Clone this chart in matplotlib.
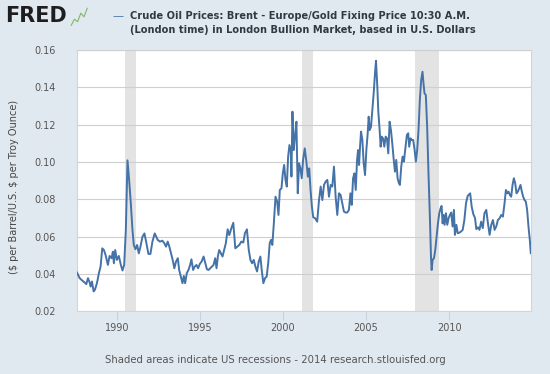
import matplotlib
matplotlib.use("Agg")
import matplotlib.pyplot as plt

years = [
    1987.60, 1987.76, 1987.92, 1988.06, 1988.16, 1988.26, 1988.36, 1988.42, 1988.50, 1988.60,
    1988.68, 1988.80, 1988.92, 1989.02, 1989.12, 1989.22, 1989.32, 1989.46, 1989.56, 1989.68,
    1989.76, 1989.82, 1989.90, 1990.00, 1990.12, 1990.24, 1990.34, 1990.44, 1990.54, 1990.64,
    1990.74, 1990.84, 1990.94, 1991.02, 1991.12, 1991.22, 1991.32, 1991.42, 1991.54, 1991.66,
    1991.78, 1991.90, 1992.02, 1992.14, 1992.28, 1992.46, 1992.60, 1992.74, 1992.86, 1992.96,
    1993.06, 1993.16, 1993.26, 1993.36, 1993.46, 1993.56, 1993.67, 1993.75, 1993.85, 1993.95,
    1994.03, 1994.11, 1994.21, 1994.31, 1994.41, 1994.49, 1994.59, 1994.69, 1994.79, 1994.89,
    1994.99, 1995.10, 1995.22, 1995.32, 1995.42, 1995.52, 1995.62, 1995.72, 1995.82, 1995.92,
    1996.00, 1996.08, 1996.16, 1996.26, 1996.36, 1996.46, 1996.56, 1996.67, 1996.77, 1996.89,
    1997.01, 1997.13, 1997.25, 1997.37, 1997.49, 1997.61, 1997.71, 1997.83, 1997.94, 1998.04,
    1998.14, 1998.24, 1998.34, 1998.44, 1998.54, 1998.64, 1998.72, 1998.82, 1998.92, 1999.02,
    1999.12, 1999.20, 1999.28, 1999.36, 1999.45, 1999.55, 1999.65, 1999.73, 1999.81, 1999.91,
    1999.99, 2000.07, 2000.15, 2000.23, 2000.31, 2000.39, 2000.47, 2000.51, 2000.57, 2000.65,
    2000.73, 2000.81, 2000.89, 2000.97, 2001.05, 2001.13, 2001.21, 2001.31, 2001.41, 2001.50,
    2001.58, 2001.66, 2001.74, 2001.82, 2001.94, 2002.06, 2002.17, 2002.27, 2002.37, 2002.47,
    2002.57, 2002.67, 2002.77, 2002.87, 2002.97, 2003.07, 2003.17, 2003.27, 2003.37, 2003.47,
    2003.57, 2003.67, 2003.77, 2003.87, 2003.97, 2004.06, 2004.14, 2004.22, 2004.30, 2004.38,
    2004.46, 2004.52, 2004.58, 2004.64, 2004.70, 2004.78, 2004.86, 2004.94, 2005.02, 2005.10,
    2005.16, 2005.22, 2005.30, 2005.38, 2005.46, 2005.54, 2005.60, 2005.68, 2005.74, 2005.82,
    2005.88, 2005.94, 2006.02, 2006.10, 2006.18, 2006.26, 2006.34, 2006.42, 2006.50, 2006.58,
    2006.66, 2006.74, 2006.82, 2006.90, 2006.98, 2007.04, 2007.12, 2007.20, 2007.28, 2007.36,
    2007.46, 2007.54, 2007.60, 2007.68, 2007.76, 2007.84, 2007.92, 2008.00, 2008.08, 2008.16,
    2008.24, 2008.32, 2008.40, 2008.46, 2008.52, 2008.60, 2008.68, 2008.76, 2008.85, 2008.91,
    2008.95, 2009.01, 2009.09, 2009.17, 2009.25, 2009.33, 2009.41, 2009.49, 2009.55, 2009.61,
    2009.67, 2009.73, 2009.81, 2009.89, 2009.97, 2010.05, 2010.13, 2010.21, 2010.29, 2010.35,
    2010.44, 2010.52, 2010.62, 2010.72, 2010.82, 2010.92, 2011.02, 2011.12, 2011.27, 2011.36,
    2011.46, 2011.56, 2011.64, 2011.74, 2011.83, 2011.93, 2012.03, 2012.13, 2012.24, 2012.34,
    2012.44, 2012.54, 2012.64, 2012.74, 2012.84, 2012.94, 2013.04, 2013.14, 2013.24, 2013.34,
    2013.42, 2013.50, 2013.58, 2013.66, 2013.74, 2013.82, 2013.90, 2013.98, 2014.06, 2014.14,
    2014.22, 2014.30, 2014.38, 2014.46, 2014.54, 2014.62, 2014.70, 2014.78, 2014.86, 2014.92,
]

ratio = [
    0.0407, 0.0377, 0.0364, 0.0354, 0.0345, 0.0377, 0.0354, 0.0332, 0.0359, 0.0306,
    0.0315, 0.0350, 0.0404, 0.0439, 0.0537, 0.0528, 0.0501, 0.0448, 0.0496, 0.0484,
    0.0519, 0.0457, 0.0528, 0.0475, 0.0496, 0.0448, 0.0418, 0.0448, 0.0635, 0.1009,
    0.0902, 0.0777, 0.0635, 0.0555, 0.0532, 0.0555, 0.0510, 0.0546, 0.0599, 0.0617,
    0.0564, 0.0507, 0.0507, 0.0573, 0.0617, 0.0582, 0.0573, 0.0578, 0.0564, 0.0546,
    0.0573, 0.0546, 0.0510, 0.0475, 0.0430, 0.0466, 0.0484, 0.0421, 0.0386, 0.0350,
    0.0389, 0.0350, 0.0404, 0.0421, 0.0448, 0.0478, 0.0421, 0.0439, 0.0448, 0.0430,
    0.0453, 0.0466, 0.0493, 0.0460, 0.0425, 0.0421, 0.0430, 0.0439, 0.0448, 0.0484,
    0.0430, 0.0493, 0.0528, 0.0510, 0.0493, 0.0528, 0.0564, 0.0639, 0.0608, 0.0644,
    0.0674, 0.0537, 0.0546, 0.0555, 0.0573, 0.0568, 0.0618, 0.0639, 0.0529, 0.0475,
    0.0457, 0.0475, 0.0439, 0.0413, 0.0466, 0.0493, 0.0421, 0.0350, 0.0377, 0.0386,
    0.0466, 0.0564, 0.0582, 0.0555, 0.0671, 0.0814, 0.0788, 0.0716, 0.0850, 0.0859,
    0.0939, 0.0984, 0.0904, 0.0868, 0.1029, 0.1091, 0.1055, 0.0922, 0.1270, 0.1064,
    0.1145, 0.1216, 0.0832, 0.0993, 0.0966, 0.0913, 0.1011, 0.1073, 0.1002, 0.0921,
    0.0966, 0.0850, 0.0761, 0.0704, 0.0698, 0.0680, 0.0796, 0.0868, 0.0796, 0.0877,
    0.0895, 0.0904, 0.0814, 0.0877, 0.0868, 0.0975, 0.0814, 0.0716, 0.0832, 0.0823,
    0.0779, 0.0734, 0.0729, 0.0729, 0.0743, 0.0832, 0.0770, 0.0913, 0.0939, 0.0850,
    0.1011, 0.1064, 0.0984, 0.1082, 0.1163, 0.1118, 0.0993, 0.0930, 0.1064, 0.1154,
    0.1243, 0.1171, 0.1189, 0.1279, 0.1368, 0.1475, 0.1543, 0.1404, 0.1270, 0.1171,
    0.1082, 0.1136, 0.1127, 0.1082, 0.1136, 0.1127, 0.1046, 0.1216, 0.1171, 0.1100,
    0.1020, 0.0948, 0.1011, 0.0913, 0.0886, 0.0877, 0.0975, 0.1029, 0.1002, 0.1064,
    0.1145, 0.1154, 0.1082, 0.1127, 0.1118, 0.1118, 0.1068, 0.1002, 0.1064, 0.1172,
    0.1332, 0.1439, 0.1484, 0.1422, 0.1368, 0.1359, 0.1189, 0.0939, 0.0689, 0.0493,
    0.0421, 0.0475, 0.0484, 0.0529, 0.0600, 0.0671, 0.0725, 0.0752, 0.0764, 0.0671,
    0.0716, 0.0663, 0.0725, 0.0663, 0.0698, 0.0716, 0.0729, 0.0654, 0.0743, 0.0609,
    0.0663, 0.0618, 0.0621, 0.0627, 0.0636, 0.0689, 0.0779, 0.0818, 0.0832, 0.0761,
    0.0720, 0.0700, 0.0640, 0.0650, 0.0636, 0.0680, 0.0645, 0.0725, 0.0743, 0.0671,
    0.0609, 0.0663, 0.0689, 0.0636, 0.0654, 0.0689, 0.0698, 0.0716, 0.0707, 0.0779,
    0.0850, 0.0832, 0.0841, 0.0823, 0.0814, 0.0877, 0.0913, 0.0886, 0.0832, 0.0841,
    0.0859, 0.0877, 0.0841, 0.0814, 0.0796, 0.0788, 0.0743, 0.0654, 0.0582, 0.0511,
]

recessions = [(1990.50, 1991.17), (2001.17, 2001.83), (2007.92, 2009.42)]

tick_years = [1990, 1995, 2000, 2005, 2010]
y_ticks = [0.02, 0.04, 0.06, 0.08, 0.10, 0.12, 0.14, 0.16]
y_labels = ["0.02", "0.04", "0.06", "0.08", "0.10", "0.12", "0.14", "0.16"]

logo_line = [0.2, 0.45, 0.35, 0.7, 0.55, 0.9]

bg = "#e1e9f0"
line_col = "#4572a7"

fig = plt.figure(figsize=(5.5, 3.74), dpi=100, facecolor=bg)
ax = fig.add_axes([0.14, 0.168, 0.826, 0.698])
ax.set_facecolor("white")

for a, b in recessions:
    ax.axvspan(a, b, color="#e3e3e3", lw=0, zorder=1)

ax.plot(years, ratio, color=line_col, lw=1.4, zorder=3)

ax.set_xlim(1987.6, 2014.95)
ax.set_ylim(0.02, 0.16)
ax.set_yticks(y_ticks)
ax.set_yticklabels(y_labels)
ax.yaxis.grid(True, color="#cfcfcf", lw=0.8, zorder=2)
ax.set_axisbelow(False)

ax.set_xticks(tick_years)
ax.set_xticklabels([str(y) for y in tick_years])
ax.tick_params(axis="x", length=6.5, color="#c6d3df", width=0.8, pad=2,
               labelsize=7, labelcolor="#555555")
ax.tick_params(axis="y", length=0, pad=15, labelsize=7, labelcolor="#555555")

for s in ax.spines.values():
    s.set_color("#d4d4d4")
    s.set_linewidth(0.8)

fig.text(0.026, 0.5, "(\\$ per Barrel/U.S. \\$ per Troy Ounce)", rotation=90,
         ha="center", va="center", fontsize=7, color="#444444")

fig.text(0.01, 0.958, "FRED", fontsize=15, fontweight="bold", color="#1e1e1e",
         ha="left", va="center")
lax = fig.add_axes([0.128, 0.93, 0.032, 0.05])
lax.plot(range(len(logo_line)), logo_line, color="#7fb86a", lw=0.8)
lax.axis("off")

fig.text(0.205, 0.958, "\u2014", fontsize=8, color=line_col, ha="left", va="center")
fig.text(0.236, 0.958, "Crude Oil Prices: Brent - Europe/Gold Fixing Price 10:30 A.M.",
         fontsize=7.1, fontweight="bold", color="#2f3a45", ha="left", va="center")
fig.text(0.236, 0.92, "(London time) in London Bullion Market, based in U.S. Dollars",
         fontsize=7.1, fontweight="bold", color="#2f3a45", ha="left", va="center")

fig.text(0.5, 0.037, "Shaded areas indicate US recessions - 2014 research.stlouisfed.org",
         fontsize=7.3, color="#555555", ha="center", va="center")

fig.savefig("out.png", dpi=100, facecolor=bg)
